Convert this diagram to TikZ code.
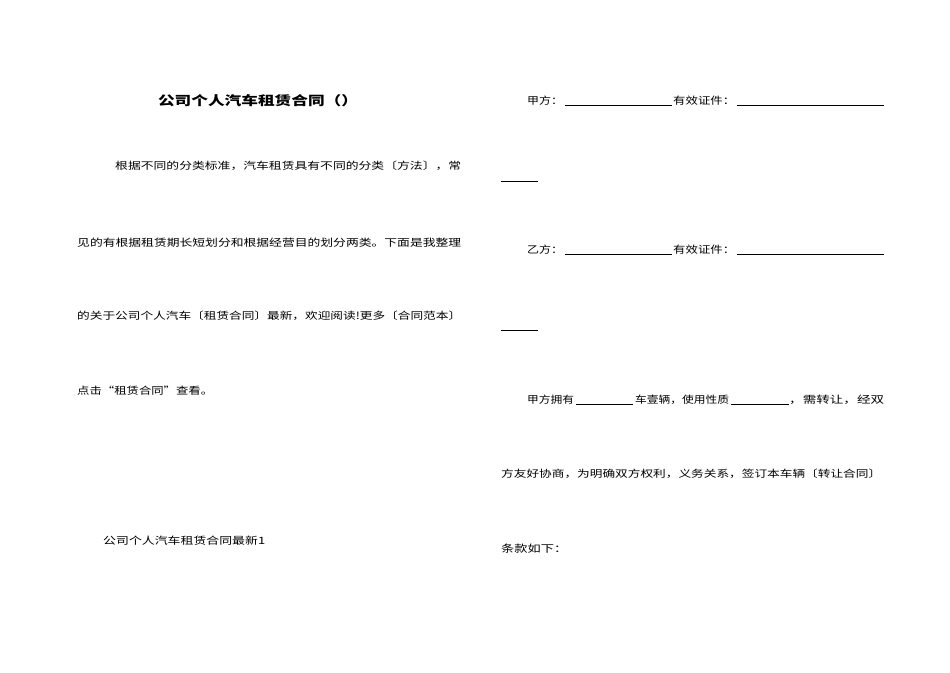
\documentclass[tikz,border=0pt]{standalone}
\usepackage{fontspec}
\newfontfamily\cjk{Noto Sans CJK SC}
\usepackage{graphicx}
\tikzset{txt/.style={anchor=west,inner sep=0pt,font=\cjk},ul/.style={line width=0.5pt}}
\newcommand{\tl}[5][txt]{\node[#1] (n#2x#3) at (#2,#3) {\resizebox{#4pt}{8.5pt}{#5}};}
\begin{document}
\begin{tikzpicture}[x=1pt,y=-1pt]
\useasboundingbox (0,0) rectangle (950,672);
\node[inner sep=0pt,font=\cjk\bfseries] (title) at (258,101) {\resizebox{200pt}{11pt}{公司个人汽车租赁合同（）}};
\tl{115}{166}{346}{根据不同的分类标准，汽车租赁具有不同的分类〔方法〕，常}
\tl{77}{243}{384}{见的有根据租赁期长短划分和根据经营目的划分两类。下面是我整理}
\tl{77}{316}{384}{的关于公司个人汽车〔租赁合同〕最新，欢迎阅读!更多〔合同范本〕}
\tl{77}{391}{136}{点击“租赁合同”查看。}
\tl{103}{541}{162}{公司个人汽车租赁合同最新1}
% right
\tl{527}{101}{36}{甲方：}
\draw[ul] (565,105) coordinate (a1) -- (672,105) coordinate (a2);
\tl{673}{101}{62}{有效证件：}
\draw[ul] (737,105) coordinate (a3) -- (884,105) coordinate (a4);
\draw[ul] (501,181) coordinate (a5) -- (538,181) coordinate (a6);
\tl{527}{250}{36}{乙方：}
\draw[ul] (565,254) coordinate (b1) -- (672,254) coordinate (b2);
\tl{673}{250}{62}{有效证件：}
\draw[ul] (737,254) coordinate (b3) -- (884,254) coordinate (b4);
\draw[ul] (501,330) coordinate (b5) -- (538,330) coordinate (b6);
\tl{527}{400}{47}{甲方拥有}
\draw[ul] (576,404) coordinate (c1) -- (633,404) coordinate (c2);
\tl{635}{400}{94}{车壹辆，使用性质}
\draw[ul] (731,404) coordinate (c3) -- (789,404) coordinate (c4);
\tl{789}{400}{95}{，需转让，经双}
\tl{501}{474}{380}{方友好协商，为明确双方权利，义务关系，签订本车辆〔转让合同〕}
\tl{501}{549}{66}{条款如下：}
\end{tikzpicture}
\end{document}
